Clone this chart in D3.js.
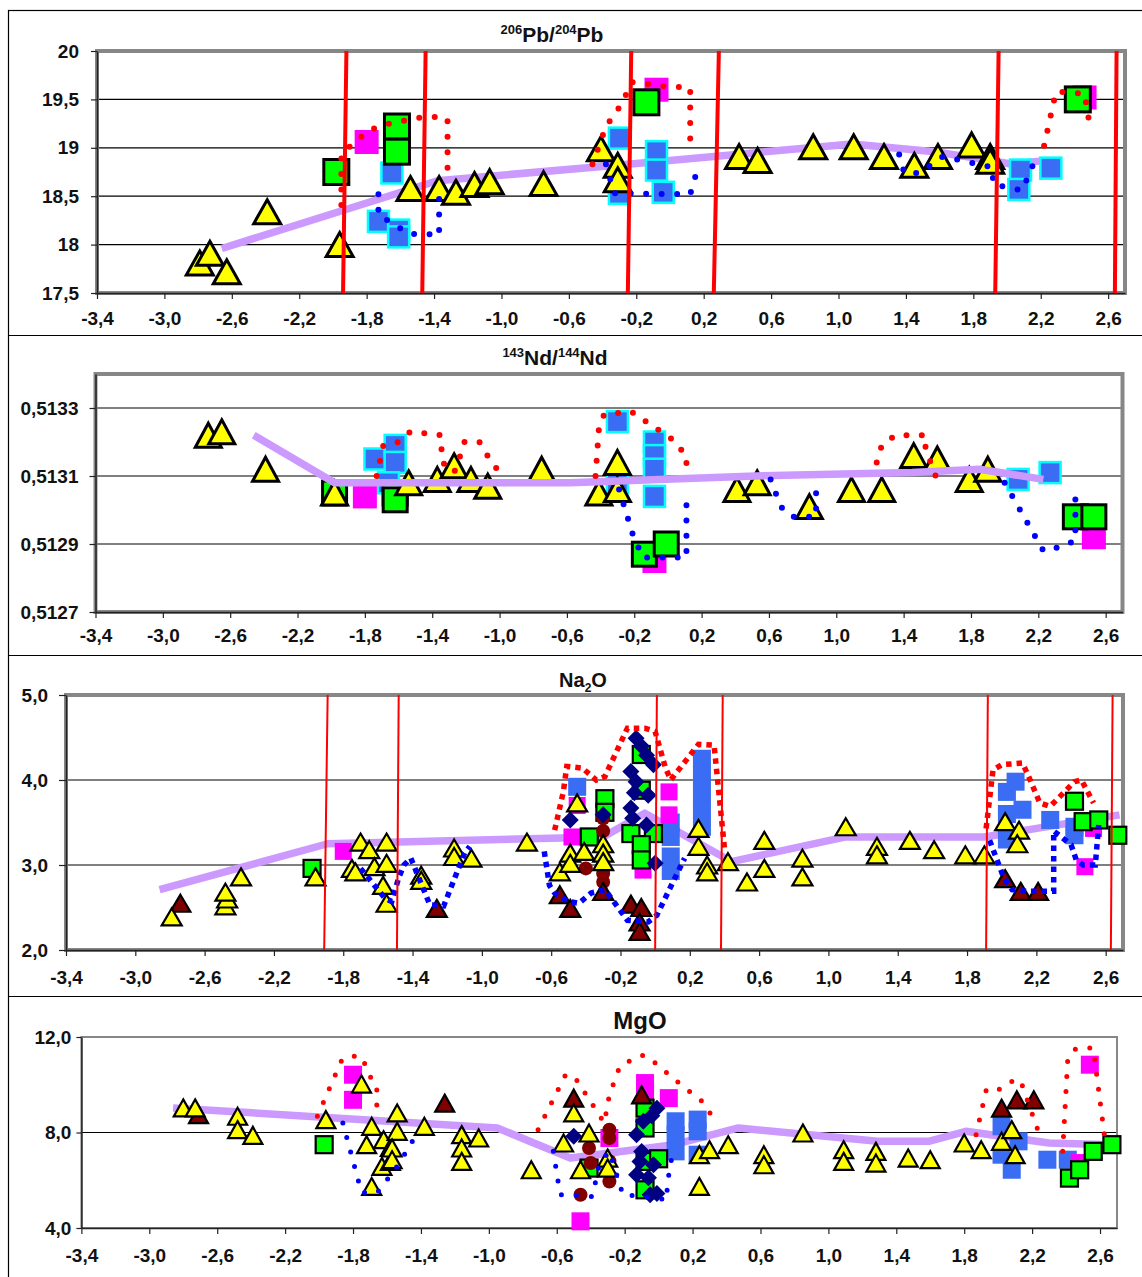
<!DOCTYPE html>
<html>
<head>
<meta charset="utf-8">
<script src="https://cdn.jsdelivr.net/npm/d3@7"></script>
<style>
  body { margin: 0; background: #fff; }
  svg { display: block; font-family: "Liberation Sans", Arial, sans-serif; font-weight: bold; }
</style>
</head>
<body>
<svg id="chart" width="1142" height="1277"></svg>
<script>
// ---------- shared x axis ----------
const xTickValues = d3.range(16).map(i => -3.4 + 0.4 * i);
const xTickLabels = ['-3,4', '-3,0', '-2,6', '-2,2', '-1,8', '-1,4', '-1,0', '-0,6', '-0,2',
                     '0,2', '0,6', '1,0', '1,4', '1,8', '2,2', '2,6'];

// ---------- 206Pb/204Pb ----------
const pbTickValues = [17.5, 18, 18.5, 19, 19.5, 20];
const pbTickLabels = ['17,5', '18', '18,5', '19', '19,5', '20'];
const pbYellow = [[-2.79,17.81],[-2.73,17.91],[-2.63,17.72],[-2.39,18.34],[-1.96,18.0],[-1.54,18.58],
  [-1.37,18.58],[-1.27,18.54],[-1.16,18.62],[-1.07,18.65],[-0.75,18.63],[-0.41,18.99],[-0.31,18.82],
  [-0.31,18.67],[0.41,18.91],[0.52,18.87],[0.85,19.01],[1.09,19.01],[1.27,18.91],[1.45,18.82],
  [1.59,18.91],[1.79,19.03],[1.90,18.91],[1.90,18.86]];
const pbGreen = [[-1.98,18.75],[-1.62,19.22],[-1.62,18.96],[-0.14,19.47],[2.42,19.50]];
const pbMagenta = [[-1.80,19.06],[-0.08,19.60],[2.46,19.52]];
const pbBlue = [[-1.65,18.74],[-1.73,18.24],[-1.61,18.15],[-1.61,18.08],[-0.30,19.10],[-0.08,18.96],
  [-0.08,18.77],[-0.30,18.53],[-0.04,18.54],[2.08,18.77],[2.07,18.57],[2.26,18.79]];
const pbRedDots = [
  [[-1.95,18.41],[-1.95,18.94],[-1.88,19.04],[-1.79,19.18],[-1.69,19.24],[-1.60,19.27],[-1.50,19.31],[-1.38,19.32],[-1.32,19.30],[-1.32,18.66]],
  [[-0.46,18.83],[-0.38,19.22],[-0.28,19.47],[-0.23,19.68],[-0.05,19.64],[0.12,19.62],[0.12,18.99]],
  [[2.22,19.02],[2.29,19.58],[2.46,19.56],[2.49,19.24]]
];
const pbBlueDots = [
  [[-1.73,18.52],[-1.73,18.30],[-1.65,18.23],[-1.56,18.12],[-1.53,18.11],[-1.44,18.11],[-1.37,18.09],[-1.37,18.59]],
  [[-0.38,18.83],[-0.33,18.53],[0.12,18.52],[0.17,18.82]],
  [[1.36,18.93],[1.39,18.74],[1.48,18.74],[1.62,18.91],[1.91,18.80],[1.92,18.62],[2.09,18.56],[2.16,18.85]]
];
const pbTrend = [[-2.66,17.96],[-1.38,18.66],[-0.25,18.83],[1.08,19.04],[1.57,18.96],[1.90,18.87],[2.03,18.83],[2.23,18.87]];
const pbBounds = [[-1.92,-1.94],[-1.45,-1.47],[-0.23,-0.25],[0.29,0.26],[1.95,1.93],[2.65,2.64]];

// ---------- 143Nd/144Nd ----------
const ndTickValues = [0.5127, 0.5129, 0.5131, 0.5133];
const ndTickLabels = ['0,5127', '0,5129', '0,5131', '0,5133'];
const ndYellow = [[-2.73,0.51322],[-2.65,0.51323],[-2.39,0.51312],[-1.98,0.51305],[-1.54,0.51308],
  [-1.37,0.51309],[-1.27,0.51313],[-1.17,0.51309],[-1.07,0.51307],[-0.75,0.51312],[-0.41,0.51305],
  [-0.30,0.51314],[-0.30,0.51306],[0.41,0.51306],[0.53,0.51308],[0.84,0.51301],[1.09,0.51306],
  [1.27,0.51306],[1.46,0.51316],[1.60,0.51315],[1.79,0.51309],[1.90,0.51312]];
const ndGreen = [[-1.98,0.51305],[-1.62,0.51305],[-1.62,0.51303],[-0.14,0.51287],[-0.01,0.51290],[2.42,0.51298],[2.53,0.51298]];
const ndMagenta = [[-1.80,0.51304],[-0.08,0.51285],[2.53,0.51292]];
const ndBlue = [[-1.74,0.51315],[-1.62,0.51319],[-1.62,0.51314],[-1.66,0.51308],[-0.30,0.51326],[-0.30,0.51308],
  [-0.08,0.51320],[-0.08,0.51316],[-0.08,0.51312],[-0.08,0.51304],[2.08,0.51309],[2.27,0.51311]];
const ndRedDots = [
  [[-1.73,0.51310],[-1.69,0.51319],[-1.60,0.51320],[-1.53,0.51323],[-1.35,0.51322],[-1.34,0.51314],[-1.27,0.51311],
   [-1.24,0.51315],[-1.21,0.51320],[-1.12,0.51320],[-1.06,0.51315],[-1.00,0.51311]],
  [[-0.43,0.51310],[-0.41,0.51324],[-0.38,0.51328],[-0.22,0.51329],[-0.13,0.51326],[0.02,0.51321],[0.11,0.51316],[0.11,0.51312]],
  [[1.24,0.51314],[1.27,0.51319],[1.35,0.51322],[1.53,0.51322],[1.53,0.51318],[1.59,0.51310]]
];
const ndBlueDots = [
  [[-0.29,0.51306],[-0.21,0.51293],[-0.15,0.51286],[0.11,0.51286],[0.11,0.51304]],
  [[0.61,0.51309],[0.67,0.51301],[0.74,0.51298],[0.88,0.51298],[0.88,0.51307]],
  [[2.00,0.51308],[2.23,0.51288],[2.32,0.51289],[2.42,0.51291],[2.42,0.51304]]
];
const ndTrend = [[-2.46,0.51322],[-1.98,0.51308],[-0.58,0.51308],[0.52,0.51310],[1.45,0.51311],[1.85,0.51312],[2.23,0.51309]];

// ---------- Na2O ----------
const naTickValues = [2, 3, 4, 5];
const naTickLabels = ['2,0', '3,0', '4,0', '5,0'];
const naYellow = [[-2.79,2.39],[-2.48,2.52],[-2.47,2.60],[-2.48,2.68],[-2.39,2.86],[-1.96,2.86],[-1.75,2.96],
  [-1.73,2.92],[-1.70,3.27],[-1.65,3.18],[-1.62,2.98],[-1.57,2.76],[-1.55,3.27],[-1.55,3.02],[-1.55,2.55],
  [-1.35,2.88],[-1.35,2.82],[-1.16,3.20],[-1.16,3.10],[-1.06,3.08],[-0.74,3.27],[-0.55,2.92],[-0.49,3.14],
  [-0.49,3.02],[-0.45,3.73],[-0.41,3.16],[-0.30,3.25],[-0.30,3.14],[-0.30,3.04],[0.25,3.43],[0.25,3.22],
  [0.30,3.00],[0.30,2.92],[0.42,3.04],[0.53,2.80],[0.63,3.29],[0.63,2.96],[0.85,3.08],[0.85,2.86],
  [1.10,3.45],[1.28,3.22],[1.28,3.12],[1.47,3.29],[1.61,3.18],[1.79,3.12],[1.90,3.12],[2.02,3.51],
  [2.10,3.41],[2.09,3.25]];
const naBrown = [[-2.74,2.55],[-1.26,2.49],[-0.55,2.65],[-0.49,2.49],[-0.30,2.69],[-0.14,2.54],[-0.08,2.50],
  [-0.09,2.33],[-0.09,2.22],[2.02,2.84],[2.11,2.69],[2.21,2.69]];
const naCircles = [[-0.40,2.96],[-0.30,3.55],[-0.30,3.40],[-0.30,3.20],[-0.30,2.90],[-0.30,2.80]];
const naDiamonds = [[-0.49,3.53],[-0.30,3.59],[-0.11,4.49],[-0.14,4.10],[-0.11,3.98],[-0.05,4.29],[-0.04,3.82],
  [-0.14,3.67],[-0.01,4.18],[0.00,3.02],[-0.05,3.47],[-0.12,3.85],[-0.08,4.40],[-0.13,3.55]];
const naGreen = [[-1.98,2.96],[-0.29,3.78],[-0.29,3.62],[-0.38,3.33],[-0.08,4.30],[-0.08,3.88],[-0.14,3.37],
  [-0.01,3.37],[-0.08,3.24],[-0.08,3.06],[2.42,3.75],[2.47,3.51],[2.56,3.53],[2.67,3.35]];
const naMagenta = [[-1.80,3.16],[-0.48,3.33],[-0.45,3.70],[0.08,3.86],[0.08,3.59],[-0.07,2.94],[2.48,2.98],[2.53,3.43]];
const naBlue = [[-0.45,3.92],[0.09,3.50],[0.09,3.33],[0.09,3.10],[0.09,2.93],[0.27,4.25],[0.27,4.05],[0.27,3.85],
  [0.27,3.65],[0.27,3.45],[2.03,3.86],[2.08,3.98],[2.03,3.60],[2.03,3.30],[2.12,3.65],[2.28,3.53],[2.42,3.35],[2.42,3.45]];
const naRedDots = [
  [[-0.58,3.41],[-0.53,3.86],[-0.51,4.16],[-0.42,4.14],[-0.34,4.0],[-0.29,4.04],[-0.16,4.61],[-0.06,4.61],[0.0,4.57],
   [0.06,4.14],[0.09,4.0],[0.25,4.42],[0.34,4.41],[0.40,3.20]],
  [[1.91,3.43],[1.95,4.12],[2.0,4.18],[2.12,4.20],[2.16,4.02],[2.22,3.73],[2.28,3.69],[2.42,3.98],[2.46,4.0],[2.53,3.73]]
];
const naBlueDots = [
  [[-1.70,2.96],[-1.56,2.61],[-1.52,2.57],[-1.48,2.85],[-1.45,3.0],[-1.41,3.08],[-1.30,2.53],[-1.22,2.52],[-1.10,3.14],[-1.07,3.22]],
  [[-0.64,3.16],[-0.61,2.76],[-0.58,2.67],[-0.50,2.57],[-0.44,2.55],[-0.37,2.67],[-0.29,2.71],[-0.16,2.35],[-0.04,2.33],
   [0.01,2.41],[0.17,3.08]],
  [[1.93,3.29],[2.01,2.86],[2.06,2.71],[2.15,2.69],[2.30,2.69],[2.30,3.40],[2.40,3.24],[2.43,3.06],[2.47,3.0],[2.54,3.0],[2.56,3.47]]
];
const naTrend = [[-2.86,2.71],[-1.89,3.25],[-0.30,3.33],[-0.06,3.61],[0.44,3.04],[1.10,3.33],[1.90,3.33],[2.68,3.59]];
const naBounds = [[-1.89,-1.91],[-1.48,-1.49],[0.01,0.0],[0.39,0.38],[1.92,1.91],[2.64,2.63]];

// ---------- MgO ----------
const mgTickValues = [4, 8, 12];
const mgTickLabels = ['4,0', '8,0', '12,0'];
const mgYellow = [[-2.80,9.03],[-2.73,9.03],[-2.48,8.68],[-2.48,8.12],[-2.39,7.88],[-1.96,8.54],[-1.75,10.03],
  [-1.72,7.49],[-1.69,8.26],[-1.69,5.74],[-1.62,7.70],[-1.63,6.58],[-1.58,6.79],[-1.58,7.38],[-1.54,8.82],
  [-1.54,8.05],[-1.57,7.35],[-1.57,6.86],[-1.38,8.26],[-1.16,7.91],[-1.16,7.35],[-1.16,6.79],[-1.06,7.77],
  [-0.75,6.44],[-0.56,7.56],[-0.50,8.82],[-0.46,6.44],[-0.41,7.98],[-0.30,6.93],[-0.30,6.51],[0.24,7.07],
  [0.24,5.74],[0.30,7.28],[0.41,7.49],[0.62,7.07],[0.62,6.65],[0.85,7.98],[1.09,7.28],[1.09,6.79],
  [1.28,7.21],[1.28,6.72],[1.47,6.93],[1.60,6.86],[1.80,7.56],[1.90,7.28],[2.02,7.63],[2.08,8.12],[2.10,7.07]];
const mgBrown = [[-2.71,8.75],[-1.26,9.23],[-0.50,9.44],[-0.10,9.58],[2.02,9.02],[2.11,9.37],[2.21,9.37]];
const mgCircles = [[-0.46,5.39],[-0.29,8.12],[-0.29,7.77],[-0.29,5.95],[-0.40,6.72],[-0.41,7.35],[-0.29,6.80]];
const mgMagenta = [[-1.80,10.42],[-1.80,9.37],[-0.46,4.28],[-0.29,7.77],[-0.08,10.07],[-0.08,9.72],[0.06,9.44],
  [2.54,10.84],[2.48,6.72]];
const mgGreen = [[-1.97,7.49],[-0.08,9.02],[-0.08,8.19],[-0.08,6.79],[-0.08,5.60],[-0.41,6.51],[0.00,6.90],
  [2.42,6.09],[2.48,6.44],[2.56,7.21],[2.67,7.49]];
const mgDiamonds = [[-0.50,7.84],[-0.13,7.91],[-0.09,8.47],[-0.01,9.02],[-0.11,6.79],[-0.03,6.65],[-0.05,5.39],
  [-0.01,5.45],[-0.13,6.23],[-0.04,8.70],[-0.10,7.20],[-0.06,6.10]];
const mgBlue = [[0.10,8.47],[0.10,7.90],[0.10,7.21],[0.23,8.54],[0.23,8.05],[0.23,7.07],[2.02,8.26],[2.12,7.63],
  [2.02,7.07],[2.08,6.44],[2.29,6.86],[2.41,6.86]];
const mgRedDots = [
  [[-2.01,8.68],[-1.87,10.98],[-1.84,11.19],[-1.75,11.19],[-1.69,10.21],[-1.66,9.97],[-1.66,8.68]],
  [[-0.71,8.12],[-0.55,10.39],[-0.50,10.39],[-0.32,8.40],[-0.29,9.58],[-0.23,10.74],[-0.12,11.22],[-0.07,11.22],
   [0.12,10.07],[0.26,9.28],[0.35,8.30]],
  [[1.87,7.91],[1.93,9.79],[1.99,9.72],[2.06,10.11],[2.13,10.21],[2.25,7.77]],
  [[2.38,7.21],[2.41,11.09],[2.46,11.54],[2.56,11.54],[2.63,7.67]]
];
const mgBlueDots = [
  [[-1.86,8.40],[-1.75,5.49],[-1.66,5.46],[-1.55,6.48],[-1.50,7.04],[-1.41,8.12]],
  [[-0.62,7.21],[-0.58,5.40],[-0.39,5.32],[-0.35,6.65],[-0.29,7.21],[-0.21,5.39],[-0.09,5.32],[0.05,5.18],[0.05,5.81],[0.08,7.07]]
];
const mgTrend = [[-2.86,9.03],[-0.95,8.19],[-0.52,6.93],[0.09,7.49],[0.47,8.19],[1.29,7.63],[1.59,7.63],[1.81,8.05],[2.30,7.56],[2.66,7.49]];

// ---------- panel layout ----------
const panels = [
  { left: 97, right: 1125, top: 51, bottom: 293, yDomain: [17.5, 20], ticks: pbTickValues, labels: pbTickLabels,
    grid: [18, 18.5, 19, 19.5], frame: 4, ypad: 12, ytick: 6, xpad: 13,
    title: [['206', 'sup'], ['Pb/', ''], ['204', 'sup'], ['Pb', '']], tx: 552, ty: 42, tsize: 21,
    yellow: pbYellow, green: pbGreen, magenta: pbMagenta, blue: pbBlue, redDots: pbRedDots, blueDots: pbBlueDots,
    trend: pbTrend, bounds: pbBounds, boundW: 4, trendOnTop: false,
    triW: 27, triH: 24, sqG: 25, sqM: 24, sqB: 21, cyan: true, dot: 'round', dotGap: 15.5, dotW: 6 },
  { left: 95.5, right: 1122.5, top: 374, bottom: 612, yDomain: [0.5127, 0.5134], ticks: ndTickValues, labels: ndTickLabels,
    grid: [0.5129, 0.5131, 0.5133], frame: 4, ypad: 11, ytick: 6, xpad: 11,
    title: [['143', 'sup'], ['Nd/', ''], ['144', 'sup'], ['Nd', '']], tx: 555, ty: 365, tsize: 21,
    yellow: ndYellow, green: ndGreen, magenta: ndMagenta, blue: ndBlue, redDots: ndRedDots, blueDots: ndBlueDots,
    trend: ndTrend, bounds: [], boundW: 4, trendOnTop: true,
    triW: 26, triH: 24, sqG: 24, sqM: 24, sqB: 21, cyan: true, dot: 'round', dotGap: 15.3, dotW: 6 },
  { left: 66, right: 1123, top: 695, bottom: 950, yDomain: [2, 5], ticks: naTickValues, labels: naTickLabels,
    grid: [3, 4], frame: 4, ypad: 11, ytick: 7, xpad: 15,
    title: [['Na', ''], ['2', 'sub'], ['O', '']], tx: 583, ty: 687, tsize: 20,
    yellow: naYellow, brown: naBrown, circles: naCircles, diamonds: naDiamonds, green: naGreen, magenta: naMagenta,
    blue: naBlue, redDots: naRedDots, blueDots: naBlueDots, trend: naTrend, bounds: naBounds, boundW: 2, trendOnTop: false,
    triW: 20, triH: 17, sqG: 17, sqM: 17, sqB: 18, cyan: false, dot: 'square', dotGap: 5, dotW: 5.5 },
  { left: 81.4, right: 1117, top: 1037, bottom: 1228, yDomain: [4, 12], ticks: mgTickValues, labels: mgTickLabels,
    grid: [8], frame: 2, ypad: 5, ytick: 5, xpad: 15,
    title: [['MgO', '']], tx: 640, ty: 1029, tsize: 24,
    yellow: mgYellow, brown: mgBrown, circles: mgCircles, diamonds: mgDiamonds, green: mgGreen, magenta: mgMagenta,
    blue: mgBlue, redDots: mgRedDots, blueDots: mgBlueDots, trend: mgTrend, bounds: [], boundW: 2, trendOnTop: false,
    triW: 19, triH: 17, sqG: 17, sqM: 18, sqB: 18, cyan: false, dot: 'round', dotGap: 15, dotW: 5 }
];

const svg = d3.select('#chart');

// panel boxes
svg.append('rect').attr('x', 8.5).attr('y', 10.5).attr('width', 1140).attr('height', 1280)
  .attr('fill', 'none').attr('stroke', '#000').attr('stroke-width', 1.2);
[335, 655, 996].forEach(yy => {
  svg.append('line').attr('x1', 8).attr('x2', 1142).attr('y1', yy + 0.5).attr('y2', yy + 0.5)
    .attr('stroke', '#000').attr('stroke-width', 1.2);
});

const triPath = (w, h) => `M0,${-h / 2}L${w / 2},${h / 2}L${-w / 2},${h / 2}Z`;

function drawPanel(p) {
  const g = svg.append('g');
  const x = d3.scaleLinear().domain([-3.4, 2.7]).range([p.left, p.right]);
  const y = d3.scaleLinear().domain(p.yDomain).range([p.bottom, p.top]);
  const at = d => `translate(${x(d[0])},${y(d[1])})`;
  const line = d3.line().x(d => x(d[0])).y(d => y(d[1]));

  // gridlines
  g.selectAll('line.grid').data(p.grid).join('line')
    .attr('x1', p.left).attr('x2', p.right)
    .attr('y1', d => y(d)).attr('y2', d => y(d))
    .attr('stroke', '#000').attr('stroke-width', 1.2);

  // grey frame
  g.append('rect')
    .attr('x', p.left).attr('y', p.top)
    .attr('width', p.right - p.left).attr('height', p.bottom - p.top)
    .attr('fill', 'none').attr('stroke', '#878787').attr('stroke-width', p.frame);

  // axes
  const xAxis = g.append('g').attr('transform', `translate(0,${p.bottom})`)
    .call(d3.axisBottom(x).tickValues(xTickValues).tickFormat((d, i) => xTickLabels[i])
      .tickSizeInner(6).tickSizeOuter(0).tickPadding(p.xpad));
  const yAxis = g.append('g').attr('transform', `translate(${p.left},0)`)
    .call(d3.axisLeft(y).tickValues(p.ticks).tickFormat((d, i) => p.labels[i])
      .tickSizeInner(p.ytick).tickSizeOuter(0).tickPadding(p.ypad));
  [xAxis, yAxis].forEach(a => {
    a.attr('font-family', null).attr('font-size', 19);
    a.selectAll('text').attr('fill', '#111');
    a.selectAll('line').attr('stroke', '#222').attr('stroke-width', 1.2);
    a.select('.domain').attr('stroke', '#222').attr('stroke-width', 1.5);
  });

  const trend = () => g.append('path').datum(p.trend).attr('d', line)
    .attr('fill', 'none').attr('stroke', '#cc99ff').attr('stroke-width', 7.5)
    .attr('stroke-linejoin', 'round');

  if (!p.trendOnTop) trend();

  // blue squares
  g.selectAll('rect.blue').data(p.blue).join('rect')
    .attr('x', d => x(d[0]) - p.sqB / 2).attr('y', d => y(d[1]) - p.sqB / 2)
    .attr('width', p.sqB).attr('height', p.sqB)
    .attr('fill', '#3a6cf4')
    .attr('stroke', p.cyan ? '#00ffff' : 'none').attr('stroke-width', 2.5);

  // magenta squares
  g.selectAll('rect.mag').data(p.magenta).join('rect')
    .attr('x', d => x(d[0]) - p.sqM / 2).attr('y', d => y(d[1]) - p.sqM / 2)
    .attr('width', p.sqM).attr('height', p.sqM)
    .attr('fill', '#ff00ff');

  // green squares
  g.selectAll('rect.green').data(p.green).join('rect')
    .attr('x', d => x(d[0]) - p.sqG / 2).attr('y', d => y(d[1]) - p.sqG / 2)
    .attr('width', p.sqG).attr('height', p.sqG)
    .attr('fill', '#00ff00').attr('stroke', '#000').attr('stroke-width', p.cyan ? 3 : 2.2);

  // dark red circles
  g.selectAll('circle.brown').data(p.circles || []).join('circle')
    .attr('cx', d => x(d[0])).attr('cy', d => y(d[1])).attr('r', 7)
    .attr('fill', '#800000');

  // navy diamonds
  g.selectAll('path.dia').data(p.diamonds || []).join('path')
    .attr('d', 'M0,-8.5L8.5,0L0,8.5L-8.5,0Z').attr('transform', at)
    .attr('fill', '#000080');

  // triangles
  g.selectAll('path.brownTri').data(p.brown || []).join('path')
    .attr('d', triPath(p.triW, p.triH)).attr('transform', at)
    .attr('fill', '#800000').attr('stroke', '#000').attr('stroke-width', 2.2).attr('stroke-linejoin', 'miter');
  g.selectAll('path.yellowTri').data(p.yellow).join('path')
    .attr('d', triPath(p.triW, p.triH)).attr('transform', at)
    .attr('fill', '#ffff00').attr('stroke', '#000').attr('stroke-width', p.cyan ? 3 : 2.2);

  if (p.trendOnTop) trend();

  // dotted loops
  const dotted = (data, color) => g.selectAll(null).data(data).join('path')
    .attr('d', line).attr('fill', 'none').attr('stroke', color)
    .attr('stroke-width', p.dotW)
    .attr('stroke-linecap', p.dot === 'round' ? 'round' : 'butt')
    .attr('stroke-dasharray', p.dot === 'round' ? `0 ${p.dotGap}` : `${p.dotW} ${p.dotGap}`);
  dotted(p.blueDots, '#0000ff');
  dotted(p.redDots, '#ff0000');

  // red boundary lines
  g.selectAll('line.bound').data(p.bounds).join('line')
    .attr('x1', d => x(d[0])).attr('y1', p.top)
    .attr('x2', d => x(d[1])).attr('y2', p.bottom)
    .attr('stroke', '#ff0000').attr('stroke-width', p.boundW);

  // title
  const t = svg.append('text').attr('x', p.tx).attr('y', p.ty)
    .attr('text-anchor', 'middle').attr('font-size', p.tsize).attr('fill', '#111');
  let shift = 0;
  p.title.forEach(([s, kind]) => {
    const target = kind === 'sup' ? -8 : kind === 'sub' ? 5 : 0;
    t.append('tspan').text(s)
      .attr('font-size', kind ? Math.round(p.tsize * 0.62) : p.tsize)
      .attr('dy', target - shift);
    shift = target;
  });
}

panels.forEach(drawPanel);
</script>
</body>
</html>
